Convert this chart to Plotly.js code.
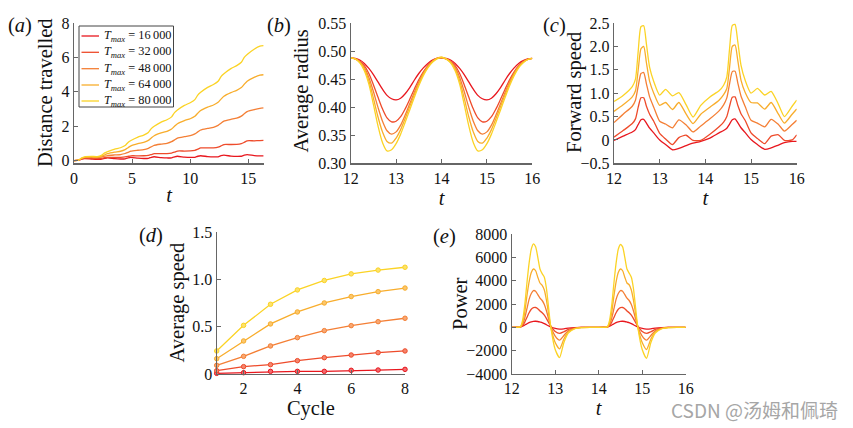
<!DOCTYPE html>
<html>
<head>
<meta charset="utf-8">
<script src="https://cdn.plot.ly/plotly-3.0.1.min.js"></script>
<style>html,body{margin:0;padding:0;background:#fff;}#chart{width:853px;height:428px;}</style>
</head>
<body>
<div id="chart"></div>
<script>
// ---------------- DATA ----------------
const seriesNames = ['<i>T</i><sub><i>max</i></sub> = 16\u2009000','<i>T</i><sub><i>max</i></sub> = 32\u2009000','<i>T</i><sub><i>max</i></sub> = 48\u2009000','<i>T</i><sub><i>max</i></sub> = 64\u2009000','<i>T</i><sub><i>max</i></sub> = 80\u2009000'];

// (a) distance travelled
const tA = [0,0.4,0.65,0.9,1.5,2.0, 2.4,2.65,2.9,3.5,4.0, 4.4,4.65,4.9,5.5,6.0, 6.4,6.65,6.9,7.5,8.0, 8.4,8.65,8.9,9.5,10.0, 10.4,10.65,10.9,11.5,12.0, 12.4,12.65,12.9,13.5,14.0, 14.4,14.65,14.9,15.5,16.0, 16.3];
const dist16k = [0,0.02,0.08,0.12,0.09,0.07, 0.08,0.13,0.16,0.11,0.09, 0.10,0.16,0.19,0.14,0.12, 0.13,0.19,0.22,0.17,0.15, 0.16,0.22,0.25,0.20,0.18, 0.19,0.25,0.28,0.23,0.21, 0.22,0.28,0.31,0.26,0.24, 0.25,0.31,0.34,0.29,0.27, 0.27];
const dist32k = [0,0.02,0.10,0.14,0.13,0.12, 0.134,0.165,0.187,0.187,0.19, 0.208,0.24,0.276,0.276,0.28, 0.305,0.35,0.40,0.40,0.405, 0.436,0.49,0.553,0.553,0.56, 0.596,0.66,0.733,0.733,0.74, 0.78,0.85,0.932,0.932,0.94, 0.984,1.06,1.15,1.15,1.16, 1.17];
const dist48k = [0,0.02,0.12,0.17,0.18,0.17, 0.208,0.251,0.292,0.327,0.35, 0.41,0.478,0.544,0.598,0.635, 0.713,0.802,0.887,0.957,1.005, 1.097,1.203,1.304,1.388,1.445, 1.548,1.666,1.778,1.871,1.935, 2.046,2.174,2.295,2.396,2.465, 2.584,2.72,2.849,2.957,3.03, 3.06];
const dist64k = [0,0.02,0.13,0.19,0.21,0.20, 0.261,0.336,0.405,0.49,0.541, 0.634,0.748,0.851,0.98,1.058, 1.173,1.314,1.443,1.603,1.699, 1.831,1.992,2.139,2.322,2.432, 2.576,2.752,2.912,3.112,3.232, 3.385,3.572,3.742,3.955,4.082, 4.242,4.437,4.614,4.836,4.969, 4.99];
const dist80k = [0,0.02,0.15,0.22,0.24,0.23, 0.318,0.446,0.524,0.663,0.745, 0.87,1.055,1.166,1.365,1.483, 1.634,1.857,1.99,2.231,2.373, 2.541,2.789,2.937,3.205,3.363, 3.543,3.808,3.967,4.253,4.423, 4.61,4.885,5.05,5.347,5.523, 5.715,5.998,6.167,6.472,6.653, 6.68];

// (b) average radius
const tB = [12.0,12.1,12.2,12.3,12.4,12.5,12.6,12.7,12.8,12.9,13.0,13.1,13.2,13.3,13.4,13.5,13.6,13.7,13.8,13.9,14.0,14.1,14.2,14.3,14.4,14.5,14.6,14.7,14.8,14.9,15.0,15.1,15.2,15.3,15.4,15.5,15.6,15.7,15.8,15.9,16.0];
const rad16k = [0.488,0.487,0.484,0.478,0.469,0.458,0.445,0.432,0.421,0.415,0.413,0.416,0.424,0.435,0.448,0.460,0.470,0.478,0.484,0.487,0.488, 0.487,0.484,0.478,0.469,0.458,0.445,0.432,0.421,0.415,0.413,0.416,0.424,0.435,0.448,0.460,0.470,0.478,0.483,0.486,0.487];
const rad32k = [0.488,0.486,0.482,0.474,0.460,0.440,0.418,0.397,0.381,0.374,0.375,0.383,0.397,0.414,0.432,0.449,0.463,0.474,0.482,0.487,0.488, 0.486,0.482,0.474,0.460,0.440,0.418,0.397,0.381,0.374,0.375,0.383,0.397,0.414,0.432,0.449,0.463,0.474,0.481,0.485,0.487];
const rad48k = [0.488,0.486,0.481,0.471,0.453,0.428,0.400,0.375,0.358,0.352,0.356,0.368,0.386,0.406,0.426,0.445,0.461,0.473,0.482,0.487,0.488, 0.486,0.481,0.471,0.453,0.428,0.400,0.375,0.358,0.352,0.356,0.368,0.386,0.406,0.426,0.445,0.461,0.473,0.481,0.485,0.487];
const rad64k = [0.488,0.486,0.480,0.468,0.447,0.416,0.383,0.356,0.339,0.336,0.345,0.360,0.380,0.401,0.422,0.442,0.459,0.472,0.481,0.487,0.489, 0.486,0.480,0.468,0.447,0.416,0.383,0.356,0.339,0.336,0.345,0.360,0.380,0.401,0.422,0.442,0.459,0.472,0.480,0.485,0.487];
const rad80k = [0.488,0.486,0.479,0.465,0.441,0.405,0.367,0.337,0.322,0.324,0.335,0.352,0.373,0.395,0.417,0.438,0.456,0.470,0.480,0.486,0.489, 0.486,0.479,0.465,0.441,0.405,0.367,0.337,0.322,0.324,0.335,0.352,0.373,0.395,0.417,0.438,0.456,0.470,0.479,0.485,0.487];

// (c) forward speed
const tC = [12.0,12.2,12.4,12.47,12.53,12.59,12.65,12.71,12.78,12.87,13.0,13.13,13.28,13.42,13.58,13.73,13.9,14.1,14.3,14.4,14.47,14.53,14.59,14.65,14.71,14.78,14.87,15.0,15.14,15.3,15.44,15.6,15.73,15.9,16.0];
const spd16k = [-0.01,0.08,0.17,0.22,0.33,0.43,0.44,0.36,0.25,0.15,0.0,-0.1,-0.21,-0.18,-0.12,-0.07,-0.03,0.04,0.15,0.20,0.25,0.34,0.43,0.45,0.37,0.26,0.16,0.01,-0.1,-0.2,-0.17,-0.11,-0.06,-0.03,-0.03];
const spd32k = [0.06,0.2,0.35,0.45,0.7,0.9,0.9,0.72,0.55,0.4,0.14,0.02,-0.1,0.05,0.1,-0.01,-0.01,0.12,0.28,0.38,0.5,0.72,0.91,0.92,0.74,0.56,0.42,0.15,0.03,-0.08,0.08,0.11,-0.01,0.0,0.11];
const spd48k = [0.37,0.55,0.72,0.85,1.15,1.42,1.44,1.2,0.92,0.7,0.4,0.34,0.26,0.43,0.32,0.17,0.3,0.45,0.62,0.75,0.9,1.2,1.46,1.47,1.22,0.94,0.72,0.42,0.36,0.28,0.44,0.33,0.19,0.33,0.42];
const spd64k = [0.61,0.75,0.92,1.05,1.5,1.95,2.0,1.65,1.25,1.0,0.74,0.8,0.65,0.8,0.55,0.35,0.55,0.7,0.85,0.97,1.1,1.55,2.0,2.03,1.7,1.28,1.02,0.8,0.79,0.66,0.8,0.55,0.36,0.55,0.66];
const spd80k = [0.82,0.95,1.14,1.3,1.9,2.42,2.44,2.05,1.55,1.25,0.96,1.08,0.94,1.01,0.75,0.49,0.74,0.92,1.05,1.17,1.35,1.95,2.45,2.47,2.1,1.6,1.28,1.0,1.1,0.96,1.04,0.76,0.5,0.72,0.85];

// (d) average speed per cycle
const cycles = [1,2,3,4,5,6,7,8];
const avg16k = [0.007,0.014,0.028,0.028,0.028,0.039,0.042,0.049];
const avg32k = [0.035,0.078,0.099,0.141,0.173,0.201,0.226,0.244];
const avg48k = [0.092,0.187,0.297,0.385,0.459,0.512,0.554,0.59];
const avg64k = [0.162,0.35,0.53,0.657,0.752,0.82,0.872,0.91];
const avg80k = [0.244,0.515,0.738,0.89,0.99,1.06,1.10,1.13];

// (e) power
const tE = [12.0,12.1,12.2,12.25,12.3,12.35,12.4,12.45,12.5,12.55,12.6,12.65,12.7,12.75,12.8,12.85,12.9,13.0,13.1,13.2,13.3,13.45,13.6,13.8, 14.0,14.1,14.2,14.25,14.3,14.35,14.4,14.45,14.5,14.55,14.6,14.65,14.7,14.75,14.8,14.85,14.9,15.0,15.1,15.2,15.3,15.45,15.6,15.8,16.0];
const pow16k = [0,10,40,100,200,300,400,470,510,520,500,450,400,320,220,120,30,-90,-150,-130,-70,-20,0,0, 0,10,40,100,200,300,400,470,510,520,500,450,400,320,220,120,30,-90,-150,-130,-70,-20,0,0,0];
const pow32k = [0,0,20,150,450,850,1250,1550,1680,1700,1600,1400,1250,1050,750,400,100,-350,-520,-380,-180,-50,-10,0, 0,0,20,150,450,850,1250,1550,1680,1700,1600,1400,1250,1050,750,400,100,-350,-520,-380,-180,-50,-10,0,0];
const pow48k = [0,0,30,250,800,1600,2400,2900,3150,3100,2800,2500,2300,1950,1400,700,50,-750,-1100,-700,-300,-80,-10,0, 0,0,30,250,800,1600,2400,2900,3150,3100,2800,2500,2300,1950,1400,700,50,-750,-1100,-700,-300,-80,-10,0,0];
const pow64k = [0,0,40,400,1300,2700,3900,4700,5000,4850,4300,3800,3600,3200,2300,1100,0,-1300,-1850,-1000,-400,-100,-20,0, 0,0,40,400,1300,2700,3900,4700,5000,4850,4300,3800,3650,3200,2300,1100,0,-1300,-1900,-1000,-400,-100,-20,0,0];
const pow80k = [0,0,60,600,1900,3800,5500,6700,7150,6900,6000,5000,4600,4300,3300,1600,0,-1900,-2600,-1300,-500,-120,-20,0, 0,0,60,600,1900,3800,5500,6700,7100,6900,6000,5000,4650,4300,3300,1600,0,-1900,-2650,-1300,-500,-120,-20,0,0];

// ---------------- STYLE ----------------
const colors = ['#e8171e','#ee4b2b','#f47f35','#f8ad2c','#fbd325'];
const markerFill = ['#f26a6d','#f4846c','#f8a772','#fbc66c','#fde26a'];
const W = 853, H = 428;
const serif = 'Liberation Serif, Times New Roman, serif';
function xd(p0,p1){return [p0/W, p1/W];}
function yd(top,bottom){return [1-bottom/H, 1-top/H];}
function px(x){return x/W;}
function py(y){return 1-y/H;}

const traces = [];
const distSets = [dist16k,dist32k,dist48k,dist64k,dist80k];
const radSets = [rad16k,rad32k,rad48k,rad64k,rad80k];
const spdSets = [spd16k,spd32k,spd48k,spd64k,spd80k];
const avgSets = [avg16k,avg32k,avg48k,avg64k,avg80k];
const powSets = [pow16k,pow32k,pow48k,pow64k,pow80k];

for (let i=0;i<5;i++){
  traces.push({x:tA,y:distSets[i],xaxis:'x',yaxis:'y',type:'scatter',mode:'lines',name:seriesNames[i],
    line:{color:colors[i],width:1.3,shape:'spline',smoothing:0.6},showlegend:false});
}
for (let i=0;i<5;i++){
  traces.push({x:tB,y:radSets[i],xaxis:'x2',yaxis:'y2',type:'scatter',mode:'lines',name:seriesNames[i],
    line:{color:colors[i],width:1.3,shape:'spline',smoothing:0.8},showlegend:false});
}
for (let i=0;i<5;i++){
  traces.push({x:tC,y:spdSets[i],xaxis:'x3',yaxis:'y3',type:'scatter',mode:'lines',name:seriesNames[i],
    line:{color:colors[i],width:1.3,shape:'spline',smoothing:0.6},showlegend:false});
}
for (let i=0;i<5;i++){
  traces.push({x:cycles,y:avgSets[i],xaxis:'x4',yaxis:'y4',type:'scatter',mode:'lines+markers',cliponaxis:false,name:seriesNames[i],
    line:{color:colors[i],width:1.3},marker:{size:4.5,color:markerFill[i],line:{color:colors[i],width:1}},showlegend:false});
}
for (let i=0;i<5;i++){
  traces.push({x:tE,y:powSets[i],xaxis:'x5',yaxis:'y5',type:'scatter',mode:'lines',name:seriesNames[i],
    line:{color:colors[i],width:1.3,shape:'spline',smoothing:0.6},showlegend:false});
}

const tickFont = {family:serif,size:16,color:'#111'};
const titleFont = {family:serif,size:20.5,color:'#111'};
function ax(extra){
  return Object.assign({showline:true,linecolor:'#666',linewidth:1.2,ticks:'inside',ticklen:4,tickcolor:'#666',tickwidth:1,
    showgrid:false,zeroline:false,tickfont:tickFont,fixedrange:true},extra);
}
const tTitle = {text:'<i>t</i>',font:titleFont,standoff:2};

// manual legend inside panel (a)
const legRows = [36,52.3,68.7,85,101];
const shapes = [{type:'rect',xref:'paper',yref:'paper',x0:px(79),x1:px(173.5),y0:py(107),y1:py(26),
  line:{color:'#444',width:1},fillcolor:'#fff',layer:'above'}];
const annotations = [];
for (let i=0;i<5;i++){
  shapes.push({type:'line',xref:'paper',yref:'paper',x0:px(81.5),x1:px(99),y0:py(legRows[i]),y1:py(legRows[i]),
    line:{color:colors[i],width:1.3},layer:'above'});
  annotations.push({text:seriesNames[i],x:px(101.5),y:py(legRows[i]),xref:'paper',yref:'paper',xanchor:'left',yanchor:'middle',
    showarrow:false,font:{family:serif,size:12.3,color:'#111'}});
}
function ylab(text,x,y){
  return {text:text,x:px(x),y:py(y),xref:'paper',yref:'paper',xanchor:'center',yanchor:'middle',textangle:-90,showarrow:false,font:titleFont};
}
function plab(text,x,y){
  return {text:text,x:px(x),y:py(y),xref:'paper',yref:'paper',xanchor:'center',yanchor:'middle',showarrow:false,font:titleFont};
}
annotations.push(
  ylab('Distance travelled',45.5,92.5),
  ylab('Average radius',300.5,91),
  ylab('Forward speed',574.5,92.5),
  ylab('Average speed',176.5,303),
  ylab('Power',459.5,303.5),
  plab('(<i>a</i>)',20,25),
  plab('(<i>b</i>)',279,25),
  plab('(<i>c</i>)',554,25),
  plab('(<i>d</i>)',151,236),
  plab('(<i>e</i>)',444,236.5),
  {text:'CSDN @汤姆和佩琦',x:px(754),y:py(409),xref:'paper',yref:'paper',xanchor:'center',yanchor:'middle',showarrow:false,
    font:{family:'Noto Sans CJK SC, Noto Sans, sans-serif',size:19,color:'#a6a6a6'}}
);

const layout = {
  width:W,height:H,margin:{l:0,r:0,t:0,b:0},paper_bgcolor:'#fff',plot_bgcolor:'rgba(0,0,0,0)',
  font:{family:serif,color:'#111'},
  showlegend:false,
  xaxis:ax({domain:xd(74,264),range:[0,16.35],tickvals:[0,5,10,15],anchor:'y',title:tTitle}),
  yaxis:ax({domain:yd(23,163.3),range:[-0.16,8],tickvals:[0,2,4,6,8],anchor:'x'}),
  xaxis2:ax({domain:xd(350.7,532.3),range:[12,16],tickvals:[12,13,14,15,16],anchor:'y2',title:tTitle}),
  yaxis2:ax({domain:yd(23,163.3),range:[0.30,0.55],tickvals:[0.30,0.35,0.40,0.45,0.50,0.55],tickformat:'.2f',anchor:'x2'}),
  xaxis3:ax({domain:xd(614,796.7),range:[12,16],tickvals:[12,13,14,15,16],anchor:'y3',title:tTitle}),
  yaxis3:ax({domain:yd(23,163.3),range:[-0.5,2.5],tickvals:[-0.5,0,0.5,1.0,1.5,2.0,2.5],
    ticktext:['\u22120.5','0','0.5','1.0','1.5','2.0','2.5'],anchor:'x3'}),
  xaxis4:ax({domain:xd(216.7,405),range:[1,8],tickvals:[2,4,6,8],anchor:'y4',
    title:{text:'Cycle',font:titleFont,standoff:4}}),
  yaxis4:ax({domain:yd(232.3,374),range:[0,1.5],tickvals:[0,0.5,1.0,1.5],ticktext:['0','0.5','1.0','1.5'],anchor:'x4'}),
  xaxis5:ax({domain:xd(511.7,685.7),range:[12,16],tickvals:[12,13,14,15,16],anchor:'y5',title:tTitle}),
  yaxis5:ax({domain:yd(234,374),range:[-4000,8000],tickvals:[-4000,-2000,0,2000,4000,6000,8000],
    ticktext:['\u22124000','\u22122000','0','2000','4000','6000','8000'],anchor:'x5'}),
  shapes:shapes,
  annotations:annotations
};

Plotly.newPlot('chart',traces,layout,{displayModeBar:false,staticPlot:true});
</script>
</body>
</html>
